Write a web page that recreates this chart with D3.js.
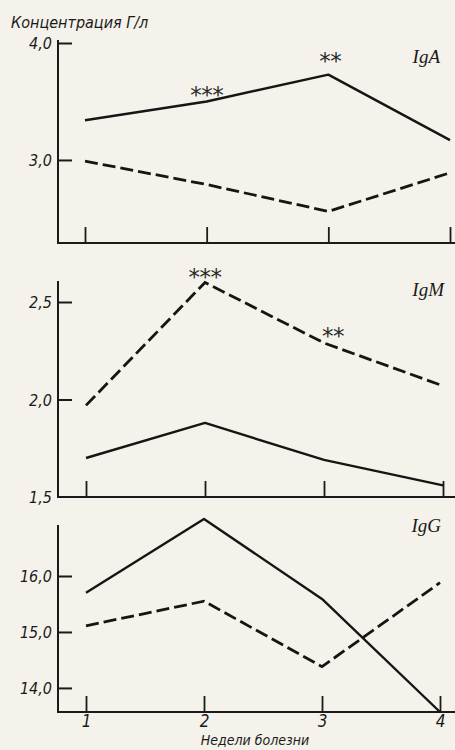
<!DOCTYPE html>
<html>
<head>
<meta charset="utf-8">
<script src="https://cdn.jsdelivr.net/npm/d3@7"></script>
<style>
  body { margin: 0; background: #f4f2ea; }
  svg { display: block; }
  .lbl { font-family: "Liberation Sans Narrow", "DejaVu Sans Condensed", sans-serif; font-style: italic; fill: #1a1a1a; }
  .ig { font-family: "Liberation Serif", "DejaVu Serif", serif; font-style: italic; fill: #1a1a1a; font-size: 19px; }
</style>
</head>
<body>
<svg id="chart" width="455" height="750"></svg>
<script>
// weeks of illness
var weeks = [1, 2, 3, 4];

// IgA
var igaSolid = [3.34, 3.50, 3.73, 3.17];
var igaDashed = [2.99, 2.79, 2.56, 2.89];
var igaTicks = [3.0, 4.0];
var igaStars = [{ week: 2, text: "***" }, { week: 3, text: "**" }];

// IgM
var igmSolid = [1.70, 1.88, 1.69, 1.56];
var igmDashed = [1.97, 2.60, 2.29, 2.07];
var igmTicks = [1.5, 2.0, 2.5];
var igmStars = [{ week: 2, text: "***" }, { week: 3, text: "**" }];

// IgG
var iggSolid = [15.70, 17.02, 15.59, 13.57];
var iggDashed = [15.11, 15.55, 14.38, 15.88];
var iggTicks = [14.0, 15.0, 16.0];

var svg = d3.select("#chart");
var axisX = 58;
var fmt = function(d) { return d3.format(".1f")(d).replace(".", ","); };

var panels = [
  { name: "IgA", solid: igaSolid, dashed: igaDashed, ticks: igaTicks, stars: igaStars, starOff: [[0, 2], [2, -6]],
    domain: [2.29, 4.0], range: [243, 43], top: 40, xr: [85, 450], labelY: 63, labelX: 440 },
  { name: "IgM", solid: igmSolid, dashed: igmDashed, ticks: igmTicks, stars: igmStars, starOff: [[0, 2], [9, 1]],
    domain: [1.5, 2.5], range: [497, 302], top: 281, xr: [86, 443], labelY: 296, labelX: 444 },
  { name: "IgG", solid: iggSolid, dashed: iggDashed, ticks: iggTicks, stars: [], starOff: [],
    domain: [13.57, 16.0], range: [712, 576], top: 525, xr: [86, 440], labelY: 532, labelX: 441 }
];

panels.forEach(function(p, pi) {
  var g = svg.append("g");
  var x = d3.scaleLinear().domain([1, 4]).range(p.xr);
  var y = d3.scaleLinear().domain(p.domain).range(p.range);
  var bottom = p.range[0];

  // y axis with inward ticks
  var yAxis = d3.axisLeft(y)
    .tickValues(p.ticks)
    .tickSizeInner(-14)
    .tickSizeOuter(0)
    .tickPadding(6)
    .tickFormat(fmt);
  var ya = g.append("g").attr("transform", "translate(" + axisX + ",0)").call(yAxis);
  ya.select(".domain").remove();
  ya.selectAll(".tick line").attr("stroke", "#1a1a1a").attr("stroke-width", 2)
    .filter(function(d) { return d === p.domain[0]; }).remove();
  ya.selectAll(".tick text").attr("class", "lbl").attr("font-size", 16)
    .attr("font-family", null).attr("dy", "0.36em");
  g.append("line")
    .attr("x1", axisX).attr("x2", axisX)
    .attr("y1", p.top).attr("y2", bottom)
    .attr("stroke", "#1a1a1a").attr("stroke-width", 2);

  // x axis
  g.append("line")
    .attr("x1", axisX - 1).attr("x2", 455)
    .attr("y1", bottom).attr("y2", bottom)
    .attr("stroke", "#1a1a1a").attr("stroke-width", 2);
  var xAxis = d3.axisBottom(x)
    .tickValues(weeks)
    .tickSizeInner(-16)
    .tickSizeOuter(0)
    .tickPadding(3)
    .tickFormat(pi === 2 ? d3.format("d") : function() { return ""; });
  var xa = g.append("g").attr("transform", "translate(0," + bottom + ")").call(xAxis);
  xa.select(".domain").remove();
  xa.selectAll(".tick line").attr("stroke", "#1a1a1a").attr("stroke-width", 1.8);
  xa.selectAll(".tick text").attr("class", "lbl").attr("font-size", 17).attr("font-family", null);

  var line = d3.line()
    .x(function(d, i) { return x(weeks[i]); })
    .y(function(d) { return y(d); });

  g.append("path").datum(p.solid)
    .attr("d", line)
    .attr("fill", "none").attr("stroke", "#151515").attr("stroke-width", 2.4)
    .attr("stroke-linejoin", "round");
  g.append("path").datum(p.dashed)
    .attr("d", line)
    .attr("fill", "none").attr("stroke", "#151515").attr("stroke-width", 2.8)
    .attr("stroke-dasharray", "13,5");

  // significance marks
  p.stars.forEach(function(s, k) {
    var i = weeks.indexOf(s.week);
    var v = Math.max(p.solid[i], p.dashed[i]);
    g.append("text")
      .attr("x", x(s.week) + p.starOff[k][0])
      .attr("y", y(v) + p.starOff[k][1])
      .attr("text-anchor", "middle")
      .attr("font-family", "DejaVu Sans, sans-serif")
      .attr("font-size", 23)
      .attr("letter-spacing", -0.5)
      .attr("fill", "#2a2a2a")
      .text(s.text);
  });

  g.append("text").attr("class", "ig")
    .attr("x", p.labelX).attr("y", p.labelY)
    .attr("text-anchor", "end")
    .text(p.name);
});

svg.append("text").attr("class", "lbl")
  .attr("x", 11).attr("y", 28)
  .attr("font-size", 16)
  .text("Концентрация Г/л");

svg.append("text").attr("class", "lbl")
  .attr("x", 255).attr("y", 745)
  .attr("text-anchor", "middle")
  .attr("font-size", 14)
  .text("Недели болезни");
</script>
</body>
</html>
